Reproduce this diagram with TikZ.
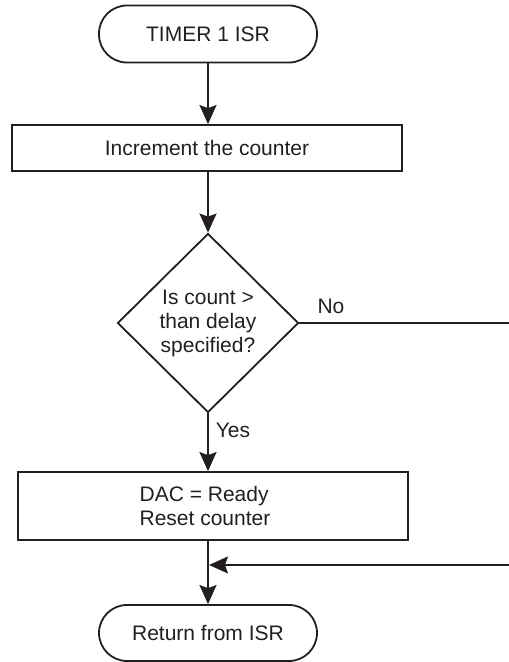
\documentclass[tikz,border=0pt]{standalone}
\usepackage{fontspec}
\setmainfont{Liberation Sans}
\usetikzlibrary{arrows.meta,shapes.geometric}
\definecolor{ink}{HTML}{231F20}
\begin{document}
\begin{tikzpicture}[x=1pt,y=1pt,
  every node/.style={font=\fontsize{21}{24}\selectfont, text=ink},
  term/.style={draw=ink, line width=1.8pt, rectangle, rounded corners=28pt, minimum width=218pt, minimum height=57pt, inner sep=0pt},
  procbox/.style={draw=ink, line width=1.8pt, rectangle, minimum width=390pt, inner sep=0pt},
  decision/.style={draw=ink, line width=1.8pt, diamond, minimum width=181pt, minimum height=179pt, inner sep=0pt, align=center},
  conn/.style={draw=ink, line width=1.8pt},
  arr/.style={conn, -{Stealth[length=19pt,width=17pt,inset=3pt]}},
  lbl/.style={inner sep=0pt}
]
\useasboundingbox (0,0) rectangle (509,662);
\node[term] (t1) at (208,628) {TIMER 1 ISR};
\node[procbox, minimum height=46pt] (b1) at (207,514) {Increment the counter};
\node[decision] (d) at (208,339) {Is count >\\than delay\\specified?};
\node[procbox, minimum height=68pt] (b2) at (213,156) {};
\node[align=left, lbl] (b2text) at (205,156) {DAC = Ready\\Reset counter};
\node[term, minimum height=56pt] (t2) at (208,29) {Return from ISR};
\coordinate (noend) at (509,339);
\coordinate (retstart) at (509,97);
\draw[arr] (t1.south) -- (t1.south |- b1.north);
\draw[arr] (d.north |- b1.south) -- (d.north);
\draw[arr] (d.south) -- (d.south |- b2.north);
\draw[arr] (t2.north |- b2.south) -- (t2.north);
\draw[conn] (d.east) -- (noend);
\draw[arr] (retstart) -- ([xshift=1pt]t2.north |- retstart);
\node[lbl] (nolbl) at (331,356) {No};
\node[lbl] (yeslbl) at (233,232) {Yes};
\end{tikzpicture}
\end{document}
